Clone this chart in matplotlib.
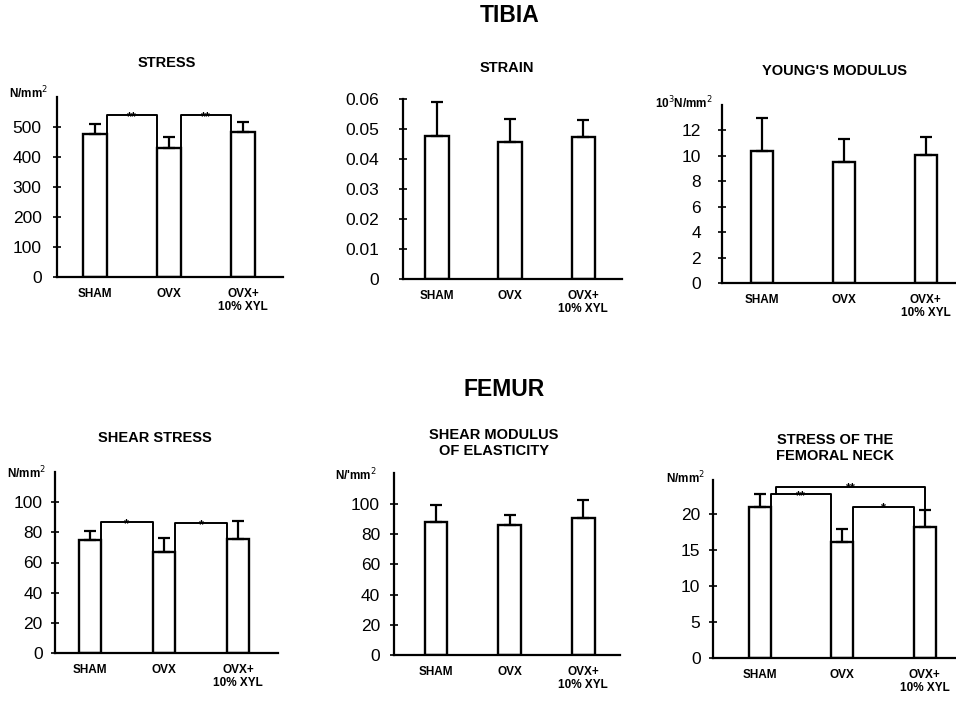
import matplotlib
matplotlib.use("Agg")
import matplotlib.pyplot as plt
import numpy as np

plt.rcParams['font.family'] = ['Liberation Sans', 'DejaVu Sans']

groups = ['SHAM', 'OVX', 'OVX+\n10% XYL']

# tibia (means and upward SD)
stress_mean = [477, 430, 483]
stress_sd = [33, 37, 34]
strain_mean = [0.0477, 0.0457, 0.0473]
strain_sd = [0.0113, 0.0076, 0.0057]
young_mean = [10.4, 9.5, 10.1]
young_sd = [2.6, 1.8, 1.4]

# femur
shear_mean = [74.7, 67.0, 75.3]
shear_sd = [6.0, 9.5, 12.0]
shearmod_mean = [88, 86, 91]
shearmod_sd = [11, 7, 11.5]
neck_mean = [21.0, 16.1, 18.2]
neck_sd = [1.7, 1.8, 2.3]

# significance brackets: (bar i, bar j, height, label)
stress_sig = [(0, 1, 540, '**'), (1, 2, 540, '**')]
shear_sig = [(0, 1, 86.7, '*'), (1, 2, 86.0, '*')]
neck_sig = [(0, 1, 22.7, '**'), (1, 2, 21.0, '*')]

W, H = 956, 704


def px(x, y):
    # pixel (from top-left) -> figure fraction
    return x / W, 1 - y / H


def make_axes(fig, left, right, base, top):
    return fig.add_axes([left / W, 1 - base / H, (right - left) / W, (base - top) / H])


def star(ax, x, y, lab):
    # asterisks sitting on the bracket line
    ax.annotate(lab, (x, y), xytext=(0, -1.3), textcoords='offset points', ha='center',
                va='center', fontsize=9, fontweight='bold')


def bar_panel(ax, means, sds, width, ylim, xlim, yticks, ylabels, pad, sig=None):
    x = np.arange(len(means))
    ax.bar(x, means, width=width, color='white', edgecolor='black', linewidth=1.7, zorder=2)
    ax.errorbar(x, means, yerr=[np.zeros(len(sds)), sds], fmt='none', ecolor='black',
                elinewidth=1.6, capsize=4.5, capthick=1.6, zorder=3)
    if sig:
        for i, j, h, lab in sig:
            x1, x2 = x[i] + width / 2, x[j] - width / 2
            ax.plot([x1, x1, x2, x2], [means[i], h, h, means[j]], color='black', lw=1.4, zorder=1)
            star(ax, (x1 + x2) / 2, h, lab)
    ax.set_xlim(*xlim)
    ax.set_ylim(*ylim)
    ax.set_yticks(yticks)
    ax.set_yticklabels(ylabels, fontsize=12.5)
    ax.set_xticks(x)
    ax.set_xticklabels(groups, fontsize=8.5, fontweight='bold', linespacing=1.15)
    ax.tick_params(axis='x', length=0, pad=8)
    ax.tick_params(axis='y', direction='inout', length=6, width=1.2, pad=pad)
    for s in ['top', 'right']:
        ax.spines[s].set_visible(False)
    ax.spines['left'].set_linewidth(1.6)
    ax.spines['bottom'].set_linewidth(1.6)
    ax.patch.set_alpha(0)


fig = plt.figure(figsize=(9.56, 7.04), dpi=100)

# ---- TIBIA ----
ax1 = make_axes(fig, 57, 283, 277, 97)
bar_panel(ax1, stress_mean, stress_sd, 0.32, (0, 600), (-0.514, 2.54),
          np.arange(0, 501, 100), [str(v) for v in range(0, 501, 100)], 8, stress_sig)

ax2 = make_axes(fig, 403, 622, 279, 99)
bar_panel(ax2, strain_mean, strain_sd, 0.32, (0, 0.06), (-0.466, 2.53),
          np.arange(0, 0.061, 0.01), ['0', '0.01', '0.02', '0.03', '0.04', '0.05', '0.06'], 14)

ax3 = make_axes(fig, 722, 956, 283, 105)
bar_panel(ax3, young_mean, young_sd, 0.27, (0, 14), (-0.49, 2.37),
          np.arange(0, 13, 2), [str(v) for v in range(0, 13, 2)], 12)

# ---- FEMUR ----
ax4 = make_axes(fig, 55, 278, 653, 472)
bar_panel(ax4, shear_mean, shear_sd, 0.30, (0, 120), (-0.47, 2.54),
          np.arange(0, 101, 20), [str(v) for v in range(0, 101, 20)], 6, shear_sig)

ax5 = make_axes(fig, 394, 620, 655, 473)
bar_panel(ax5, shearmod_mean, shearmod_sd, 0.31, (0, 120.5), (-0.57, 2.5),
          np.arange(0, 101, 20), [str(v) for v in range(0, 101, 20)], 7)

ax6 = make_axes(fig, 713, 956, 658, 480)
bar_panel(ax6, neck_mean, neck_sd, 0.27, (0, 24.7), (-0.57, 2.38),
          np.arange(0, 21, 5), [str(v) for v in range(0, 21, 5)], 6, neck_sig)
# long bracket SHAM -> OVX+XYL
xl, xr, hh = 0.2, 2.0, 23.75
ax6.plot([xl, xl, xr, xr], [neck_sig[0][2], hh, hh, neck_mean[2] + neck_sd[2]],
         color='black', lw=1.4, zorder=1)
star(ax6, (xl + xr) / 2, hh, '**')

# titles
fig.text(*px(510, 16), 'TIBIA', ha='center', va='center', fontsize=16.5, fontweight='bold')
fig.text(*px(504, 389), 'FEMUR', ha='center', va='center', fontsize=16.5, fontweight='bold')

sub = [(167, 63, 'STRESS'), (507, 68, 'STRAIN'), (834, 71, "YOUNG'S MODULUS"),
       (155, 438, 'SHEAR STRESS'), (494, 443, 'SHEAR MODULUS\nOF ELASTICITY'),
       (835, 448, 'STRESS OF THE\nFEMORAL NECK')]
for x, y, t in sub:
    fig.text(*px(x, y), t, ha='center', va='center', fontsize=10.5, fontweight='bold',
             linespacing=1.1)

units = [(9, 93, 'N/mm$^2$'), (655, 103, '10$^3$N/mm$^2$'), (7, 473, 'N/mm$^2$'),
         (335, 475, "N/'mm$^2$"), (666, 478, 'N/mm$^2$')]
for x, y, t in units:
    fig.text(*px(x, y), t, ha='left', va='center', fontsize=8.5, fontweight='bold')

fig.savefig('out.png', dpi=100)
plt.close('all')
